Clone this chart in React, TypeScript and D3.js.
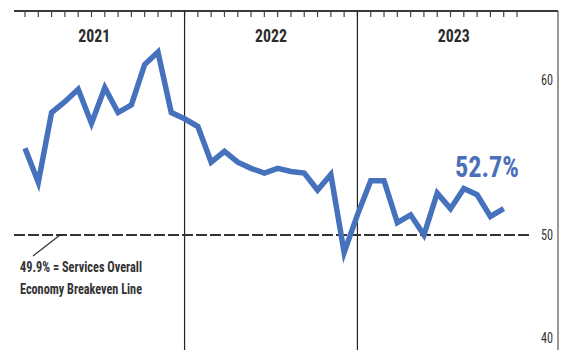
import React from "react";
import * as d3 from "d3";

// Services PMI, monthly (Jan 2021 .. Jan 2024 grid)
const pmiValues = [
  55.6, 53.4, 57.9, 58.6, 59.4, 57.2, 59.5, 57.9, 58.4, 61.0, 61.8, 57.9,
  57.5, 57.0, 54.7, 55.4, 54.7, 54.3, 54.0, 54.3, 54.1, 54.0, 52.9, 53.9, 48.3,
  51.3, 53.5, 53.5, 50.8, 51.3, 50.0, 52.7, 51.7, 53.0, 52.6, 51.2, 51.7,
];
const tickCount = 38; // monthly tick marks along the top
const years = ["2021", "2022", "2023"];
const yearBoundaryIdx = [12, 25]; // month index where a new year starts
const yTicks = [60, 50, 40];
const breakeven = 50;
const lastLabel = "52.7%";
const noteLines = ["49.9% = Services Overall", "Economy Breakeven Line"];

const W = 561;
const H = 350;
const frameLeft = 14;
const frameRight = 558;
const frameTop = 11;

export default function App() {
  const x = d3.scaleLinear().domain([0, tickCount - 1]).range([25, 517]);
  const y = d3.scaleLinear().domain([40, 50, 60]).range([338, 235, 80]);

  const line = d3
    .line<number>()
    .x((_, i) => x(i))
    .y((d) => y(d))
    .curve(d3.curveLinear);

  const bounds = [frameLeft, ...yearBoundaryIdx.map((i) => x(i)), frameRight];
  const narrow = "'Liberation Sans Narrow', 'Roboto Condensed', 'Arial Narrow', Roboto, sans-serif";
  const last = pmiValues.length - 1;

  return (
    <svg
      width={W}
      height={H}
      style={{ position: "absolute", left: 0, top: 0, background: "#fff" }}
    >
      {/* top frame line */}
      <line x1={frameLeft} x2={frameRight} y1={frameTop} y2={frameTop} stroke="#3a3a3a" strokeWidth={2} />
      {/* right frame */}
      <line x1={frameRight} x2={frameRight} y1={frameTop} y2={H} stroke="#555" strokeWidth={1.2} />
      {/* monthly ticks */}
      {d3.range(tickCount).map((i) => (
        <line key={i} x1={x(i)} x2={x(i)} y1={frameTop} y2={frameTop + 6} stroke="#444" strokeWidth={1.2} />
      ))}
      {/* year dividers */}
      {yearBoundaryIdx.map((i) => (
        <line key={i} x1={x(i)} x2={x(i)} y1={frameTop} y2={H} stroke="#222" strokeWidth={1.2} />
      ))}
      {/* year labels */}
      {years.map((yr, i) => (
        <text
          key={yr}
          x={(bounds[i] + bounds[i + 1]) / 2 - (i === 0 ? 5 : i === 2 ? 4 : 0)}
          y={42}
          textAnchor="middle"
          fontFamily={narrow}
          fontWeight="bold"
          fontSize={18}
          fill="#2b2b2b"
          textLength={32}
          lengthAdjust="spacingAndGlyphs"
        >
          {yr}
        </text>
      ))}
      {/* breakeven dashed line */}
      <line
        x1={frameLeft}
        x2={530}
        y1={y(breakeven)}
        y2={y(breakeven)}
        stroke="#333"
        strokeWidth={2}
        strokeDasharray="11,3"
      />
      {/* right axis labels */}
      {yTicks.map((t) => (
        <text
          key={t}
          x={553}
          y={y(t)}
          dy="0.35em"
          textAnchor="end"
          fontFamily={narrow}
          fontSize={14}
          fill="#333"
          textLength={12}
          lengthAdjust="spacingAndGlyphs"
        >
          {t}
        </text>
      ))}
      {/* data line */}
      <path
        d={line(pmiValues) || ""}
        fill="none"
        stroke="#4672bd"
        strokeWidth={5.5}
        strokeLinejoin="miter"
        strokeLinecap="butt"
      />
      {/* last value label */}
      <text
        x={455}
        y={177}
        fontFamily={narrow}
        fontWeight="bold"
        fontSize={30}
        fill="#4a70b8"
        textLength={64}
        lengthAdjust="spacingAndGlyphs"
      >
        {lastLabel}
      </text>
      {/* annotation */}
      <line x1={33} y1={256} x2={60} y2={y(breakeven)} stroke="#333" strokeWidth={1.2} />
      {noteLines.map((s, i) => (
        <text
          key={s}
          x={20}
          y={272 + i * 22}
          fontFamily={narrow}
          fontWeight="bold"
          fontSize={14}
          fill="#333"
          textLength={122}
          lengthAdjust="spacingAndGlyphs"
        >
          {s}
        </text>
      ))}
    </svg>
  );
}
